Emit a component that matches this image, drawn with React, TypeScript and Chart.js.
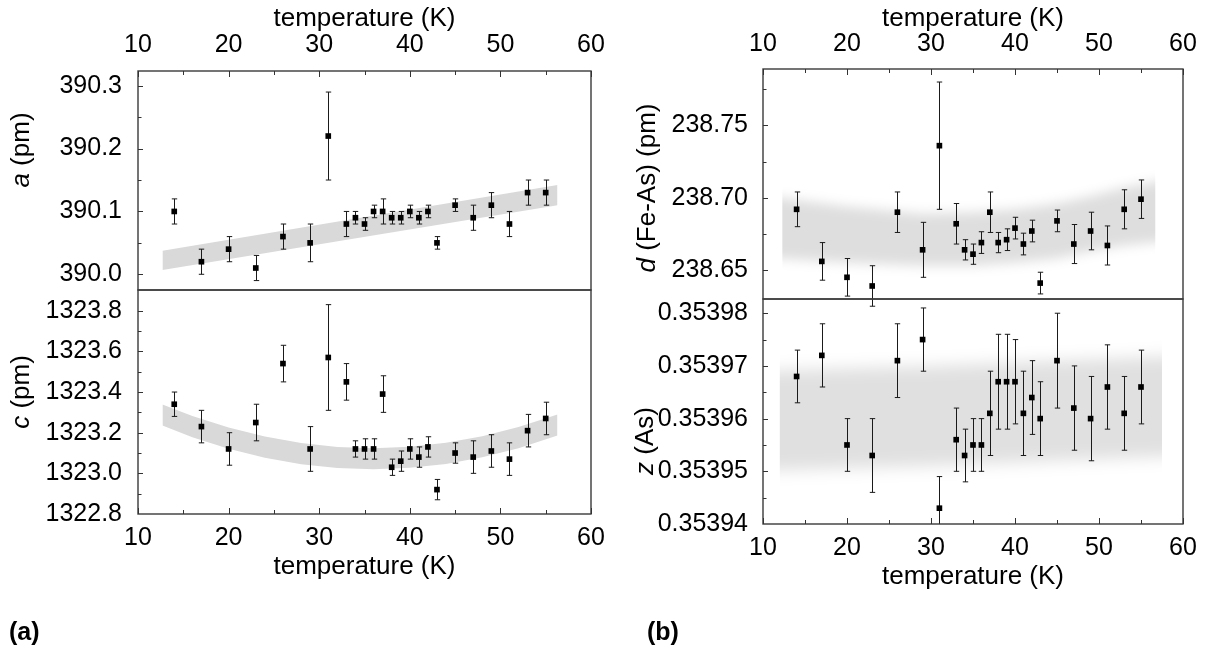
import React, { useEffect, useRef } from 'react';
import { Chart, registerables } from 'chart.js';

Chart.register(...registerables);

// ---------- data ----------
const temperatures = [14, 17, 20, 23, 26, 29, 31, 33, 34, 35, 36, 37, 38, 39, 40, 41, 42, 43, 45, 47, 49, 51, 53, 55];

const aValues = [390.10, 390.02, 390.04, 390.01, 390.06, 390.05, 390.22, 390.08, 390.09, 390.08, 390.10, 390.10, 390.09, 390.09, 390.10, 390.09, 390.10, 390.05, 390.11, 390.09, 390.11, 390.08, 390.13, 390.13];
const aErrors = [0.02, 0.02, 0.02, 0.02, 0.02, 0.03, 0.07, 0.02, 0.01, 0.01, 0.01, 0.02, 0.01, 0.01, 0.01, 0.01, 0.01, 0.01, 0.01, 0.02, 0.02, 0.02, 0.02, 0.02];

const cValues = [1323.34, 1323.23, 1323.12, 1323.25, 1323.54, 1323.12, 1323.57, 1323.45, 1323.12, 1323.12, 1323.12, 1323.39, 1323.03, 1323.06, 1323.12, 1323.08, 1323.13, 1322.92, 1323.10, 1323.08, 1323.11, 1323.07, 1323.21, 1323.27];
const cErrors = [0.06, 0.08, 0.08, 0.09, 0.09, 0.11, 0.26, 0.09, 0.04, 0.05, 0.05, 0.09, 0.04, 0.05, 0.05, 0.05, 0.05, 0.05, 0.05, 0.08, 0.08, 0.08, 0.08, 0.08];

const dValues = [238.692, 238.656, 238.645, 238.639, 238.690, 238.664, 238.736, 238.682, 238.664, 238.661, 238.669, 238.690, 238.669, 238.671, 238.679, 238.668, 238.677, 238.641, 238.684, 238.668, 238.677, 238.667, 238.692, 238.699];
const dErrors = [0.012, 0.013, 0.013, 0.014, 0.014, 0.019, 0.044, 0.014, 0.007, 0.007, 0.0075, 0.014, 0.007, 0.0075, 0.0075, 0.0075, 0.0075, 0.0075, 0.0075, 0.0135, 0.013, 0.0135, 0.0135, 0.0133];

const zValues = [0.353968, 0.353972, 0.353955, 0.353953, 0.353971, 0.353975, 0.353943, 0.353956, 0.353953, 0.353955, 0.353955, 0.353961, 0.353967, 0.353967, 0.353967, 0.353961, 0.353964, 0.353960, 0.353971, 0.353962, 0.353960, 0.353966, 0.353961, 0.353966];
const zErrors = [0.000005, 0.000006, 0.000005, 0.000007, 0.000007, 0.000006, 0.000006, 0.000006, 0.000005, 0.000005, 0.000005, 0.000008, 0.000009, 0.000009, 0.000008, 0.000008, 0.000007, 0.000007, 0.000009, 0.000008, 0.000008, 0.000008, 0.000007, 0.000007];

// shaded guide bands
const aBandT = [12.7, 56.3];
const aBandHigh = [390.0375, 390.142];
const aBandLow = [390.007, 390.110];

const cBandT = [12.7, 16, 20, 24, 28, 32, 36, 40, 44, 48, 52, 56.3];
const cBandHigh = [1323.339, 1323.282, 1323.225, 1323.181, 1323.149, 1323.130, 1323.124, 1323.131, 1323.150, 1323.183, 1323.228, 1323.290];
const cBandLow = [1323.235, 1323.178, 1323.121, 1323.077, 1323.045, 1323.026, 1323.020, 1323.027, 1323.046, 1323.079, 1323.124, 1323.186];

const dBandT = [12.3, 20, 29, 35, 40, 45, 49, 53, 56.7];
const dBandHigh = [238.702, 238.694, 238.689, 238.690, 238.692, 238.696, 238.701, 238.707, 238.714];
const dBandLow = [238.659, 238.655, 238.653, 238.653, 238.655, 238.658, 238.663, 238.667, 238.671];

const zBandT = [12.0, 30, 45, 57.5];
const zBandHigh = [0.353969, 0.353970, 0.353971, 0.353972];
const zBandLow = [0.353950, 0.353951, 0.353952, 0.353953];

// ticks
const xMajorTicks = [10, 20, 30, 40, 50, 60];
const xMinorTicks = [15, 25, 35, 45, 55];
const aMajorTicks = [390.0, 390.1, 390.2, 390.3];
const aMinorTicks = [390.05, 390.15, 390.25];
const cMajorTicks = [1322.8, 1323.0, 1323.2, 1323.4, 1323.6, 1323.8];
const cMinorTicks = [1322.9, 1323.1, 1323.3, 1323.5, 1323.7];
const dMajorTicks = [238.65, 238.70, 238.75];
const dMinorTicks = [238.675, 238.725, 238.775];
const zMajorTicks = [0.35394, 0.35395, 0.35396, 0.35397, 0.35398];
const zMinorTicks = [0.353945, 0.353955, 0.353965, 0.353975];

const FONT = '"Liberation Sans", Arial, Helvetica, sans-serif';

// ---------- plugin: band, error bars, frame, inward ticks, rich y title ----------
const panelPlugin = {
  id: 'panel',
  beforeDatasetsDraw(chart: any, _args: any, opts: any) {
    const { ctx, chartArea: ca } = chart;
    const x = chart.scales.x;
    const y = chart.scales.y;
    const band = opts.band;
    if (band) {
      const n = band.t.length;
      const x0 = x.getPixelForValue(band.t[0]);
      const x1 = x.getPixelForValue(band.t[n - 1]);
      ctx.save();
      ctx.beginPath();
      ctx.rect(ca.left, ca.top, ca.right - ca.left, ca.bottom - ca.top);
      ctx.clip();
      ctx.beginPath();
      ctx.rect(x0, ca.top, x1 - x0, ca.bottom - ca.top);
      ctx.clip();
      if (band.blur) ctx.filter = `blur(${band.blur}px)`;
      const ext = band.blur ? band.blur * 4 : 0;
      ctx.fillStyle = band.color;
      ctx.beginPath();
      for (let i = 0; i < n; i++) {
        let px = x.getPixelForValue(band.t[i]);
        if (i === 0) px -= ext;
        if (i === n - 1) px += ext;
        const py = y.getPixelForValue(band.high[i]);
        if (i === 0) ctx.moveTo(px, py);
        else ctx.lineTo(px, py);
      }
      for (let i = n - 1; i >= 0; i--) {
        let px = x.getPixelForValue(band.t[i]);
        if (i === 0) px -= ext;
        if (i === n - 1) px += ext;
        ctx.lineTo(px, y.getPixelForValue(band.low[i]));
      }
      ctx.closePath();
      ctx.fill();
      ctx.restore();
    }
    // error bars
    ctx.save();
    if (opts.clipErrors) {
      ctx.beginPath();
      ctx.rect(ca.left, ca.top, ca.right - ca.left, ca.bottom - ca.top);
      ctx.clip();
    }
    ctx.strokeStyle = '#1a1a1a';
    ctx.lineWidth = 1;
    const cap = 2.7;
    chart.data.datasets[0].data.forEach((d: any) => {
      const px = Math.round(x.getPixelForValue(d.x)) + 0.5;
      const top = y.getPixelForValue(d.y + d.err);
      const bot = y.getPixelForValue(d.y - d.err);
      ctx.beginPath();
      ctx.moveTo(px, top);
      ctx.lineTo(px, bot);
      ctx.moveTo(px - cap, top);
      ctx.lineTo(px + cap, top);
      ctx.moveTo(px - cap, bot);
      ctx.lineTo(px + cap, bot);
      ctx.stroke();
    });
    ctx.restore();
  },
  afterDatasetsDraw(chart: any, _args: any, opts: any) {
    const { ctx, chartArea: ca } = chart;
    const x = chart.scales.x;
    const y = chart.scales.y;
    ctx.save();
    ctx.strokeStyle = '#3a3a3a';
    ctx.lineWidth = 1.4;
    ctx.strokeRect(ca.left, ca.top, ca.right - ca.left, ca.bottom - ca.top);
    ctx.lineWidth = 1;
    ctx.strokeStyle = '#333';
    const edgeY = opts.xSide === 'top' ? ca.top : ca.bottom;
    const dir = opts.xSide === 'top' ? 1 : -1;
    const drawX = (v: number, len: number) => {
      const px = Math.round(x.getPixelForValue(v)) + 0.5;
      ctx.beginPath();
      ctx.moveTo(px, edgeY);
      ctx.lineTo(px, edgeY + dir * len);
      ctx.stroke();
    };
    xMajorTicks.forEach((v) => drawX(v, 6));
    xMinorTicks.forEach((v) => drawX(v, 4));
    const drawY = (v: number, len: number) => {
      const py = Math.round(y.getPixelForValue(v)) + 0.5;
      if (py < ca.top + 1 || py > ca.bottom - 1) return;
      ctx.beginPath();
      ctx.moveTo(ca.left, py);
      ctx.lineTo(ca.left + len, py);
      ctx.stroke();
    };
    opts.yMajor.forEach((v: number) => drawY(v, 5));
    opts.yMinor.forEach((v: number) => drawY(v, 3.5));
    ctx.restore();
  },
  afterDraw(chart: any, _args: any, opts: any) {
    const t = opts.title;
    if (!t) return;
    const { ctx } = chart;
    ctx.save();
    ctx.translate(t.x, t.y);
    ctx.rotate(-Math.PI / 2);
    ctx.fillStyle = '#000';
    ctx.textBaseline = 'middle';
    ctx.textAlign = 'left';
    const fonts = t.parts.map((p: any) => `${p.italic ? 'italic ' : ''}26px ${FONT}`);
    const widths = t.parts.map((p: any, i: number) => {
      ctx.font = fonts[i];
      return ctx.measureText(p.text).width;
    });
    const total = widths.reduce((s: number, w: number) => s + w, 0);
    let cx = -total / 2;
    t.parts.forEach((p: any, i: number) => {
      ctx.font = fonts[i];
      ctx.fillText(p.text, cx, 0);
      cx += widths[i];
    });
    ctx.restore();
  },
};

function zeroPad(s: any) {
  s.paddingLeft = 0;
  s.paddingRight = 0;
  s.paddingTop = 0;
  s.paddingBottom = 0;
}

function makeConfig(p: any) {
  const data = temperatures.map((t, i) => ({ x: t, y: p.values[i], err: p.errors[i] }));
  return {
    type: 'scatter',
    data: {
      datasets: [
        {
          data,
          pointStyle: 'rect',
          pointRadius: 4,
          pointBorderWidth: 0,
          backgroundColor: '#000',
          borderColor: '#000',
          clip: false,
        },
      ],
    },
    options: {
      responsive: false,
      animation: false,
      events: [],
      layout: { padding: p.padding },
      plugins: {
        legend: { display: false },
        tooltip: { enabled: false },
        panel: {
          band: p.band,
          clipErrors: p.clipErrors,
          xSide: p.xSide,
          yMajor: p.yMajor,
          yMinor: p.yMinor,
          title: p.title,
        },
      },
      scales: {
        x: {
          type: 'linear',
          position: p.xSide,
          min: 10,
          max: 60,
          grid: { display: false },
          border: { display: false },
          afterBuildTicks: (s: any) => {
            s.ticks = xMajorTicks.map((v) => ({ value: v }));
          },
          ticks: {
            autoSkip: false,
            maxRotation: 0,
            minRotation: 0,
            padding: p.xTickPad,
            color: '#000',
            font: { size: 25, family: FONT },
            callback: (v: any) => String(v),
          },
          title: {
            display: true,
            text: 'temperature (K)',
            color: '#000',
            font: { size: 26, family: FONT },
            padding: p.xTitlePad,
          },
          afterFit: (s: any) => {
            s.height = p.xHeight;
            zeroPad(s);
          },
        },
        y: {
          type: 'linear',
          position: 'left',
          min: p.yMin,
          max: p.yMax,
          grid: { display: false },
          border: { display: false },
          afterBuildTicks: (s: any) => {
            s.ticks = p.yMajor.map((v: number) => ({ value: v }));
          },
          ticks: {
            autoSkip: false,
            padding: p.yTickPad,
            color: '#000',
            font: { size: 25, family: FONT },
            callback: (v: any) => Number(v).toFixed(p.decimals),
          },
          afterFit: (s: any) => {
            s.width = 130;
            zeroPad(s);
          },
        },
      },
    },
    plugins: [panelPlugin],
  };
}

const panels = [
  {
    values: aValues,
    errors: aErrors,
    band: { t: aBandT, high: aBandHigh, low: aBandLow, color: '#d9d9d9', blur: 0 },
    clipErrors: false,
    xSide: 'top',
    xHeight: 71,
    xTickPad: 3,
    xTitlePad: { top: 3, bottom: 0 },
    yTickPad: 8,
    padding: { left: 8, top: 0, right: 619, bottom: 369 },
    yMin: 389.975,
    yMax: 390.3235,
    yMajor: aMajorTicks,
    yMinor: aMinorTicks,
    decimals: 1,
    title: { x: 22, y: 150, parts: [{ text: 'a', italic: true }, { text: ' (pm)' }] },
  },
  {
    values: cValues,
    errors: cErrors,
    band: { t: cBandT, high: cBandHigh, low: cBandLow, color: '#d9d9d9', blur: 0 },
    clipErrors: false,
    xSide: 'bottom',
    xHeight: 70,
    xTickPad: 1,
    xTitlePad: { top: 0, bottom: 1.5 },
    yTickPad: 8,
    padding: { left: 8, top: 290, right: 619, bottom: 75 },
    yMin: 1322.8,
    yMax: 1323.902,
    yMajor: cMajorTicks,
    yMinor: cMinorTicks,
    decimals: 1,
    title: { x: 22, y: 392, parts: [{ text: 'c', italic: true }, { text: ' (pm)' }] },
  },
  {
    values: dValues,
    errors: dErrors,
    band: { t: dBandT, high: dBandHigh, low: dBandLow, color: 'rgba(0,0,0,0.13)', blur: 6 },
    clipErrors: false,
    xSide: 'top',
    xHeight: 69,
    xTickPad: 2,
    xTitlePad: { top: 3, bottom: 0 },
    yTickPad: 7,
    padding: { left: 633, top: 0, right: 27, bottom: 360 },
    yMin: 238.63,
    yMax: 238.789,
    yMajor: dMajorTicks,
    yMinor: dMinorTicks,
    decimals: 2,
    title: { x: 648, y: 188, parts: [{ text: 'd', italic: true }, { text: ' (Fe-As) (pm)' }] },
  },
  {
    values: zValues,
    errors: zErrors,
    band: { t: zBandT, high: zBandHigh, low: zBandLow, color: 'rgba(0,0,0,0.12)', blur: 8 },
    clipErrors: true,
    xSide: 'bottom',
    xHeight: 70,
    xTickPad: 1,
    xTitlePad: { top: 0, bottom: 1.5 },
    yTickPad: 7,
    padding: { left: 633, top: 299, right: 27, bottom: 65 },
    yMin: 0.35394,
    yMax: 0.3539827,
    yMajor: zMajorTicks,
    yMinor: zMinorTicks,
    decimals: 5,
    title: { x: 646, y: 441, parts: [{ text: 'z', italic: true }, { text: ' (As)' }] },
  },
];

export default function App() {
  const refs = [useRef<HTMLCanvasElement>(null), useRef<HTMLCanvasElement>(null), useRef<HTMLCanvasElement>(null), useRef<HTMLCanvasElement>(null)];
  useEffect(() => {
    const charts = panels.map((p, i) => new Chart(refs[i].current as HTMLCanvasElement, makeConfig(p) as any));
    return () => charts.forEach((c) => c.destroy());
  }, []);
  const canvasStyle: React.CSSProperties = { position: 'absolute', left: 0, top: 0, width: 1210, height: 659 };
  const labelStyle: React.CSSProperties = {
    position: 'absolute',
    top: 616,
    fontFamily: '"Liberation Sans Narrow", "Liberation Sans", Arial, sans-serif',
    fontWeight: 'bold',
    fontSize: 25,
    lineHeight: '30px',
    color: '#000',
  };
  return (
    <div style={{ position: 'absolute', left: 0, top: 0, width: 1210, height: 659, background: '#fff', overflow: 'hidden' }}>
      {refs.map((r, i) => (
        <canvas key={i} ref={r} width={1210} height={659} style={canvasStyle} />
      ))}
      <div style={{ ...labelStyle, left: 9 }}>(a)</div>
      <div style={{ ...labelStyle, left: 647 }}>(b)</div>
    </div>
  );
}
